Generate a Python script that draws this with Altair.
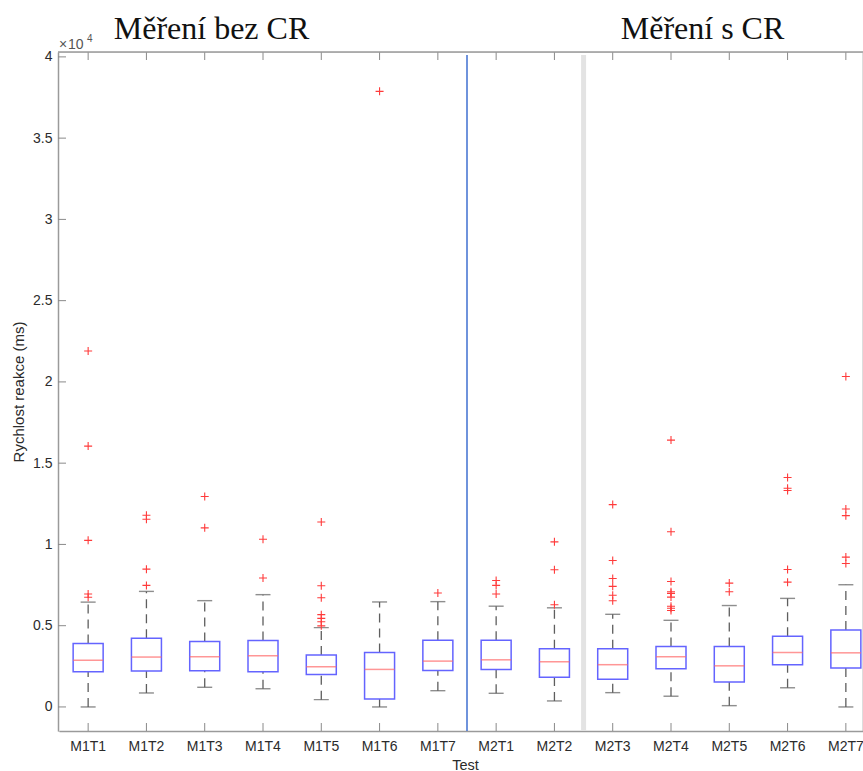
import altair as alt
import pandas as pd

cats = ["M1T1", "M1T2", "M1T3", "M1T4", "M1T5", "M1T6", "M1T7",
        "M2T1", "M2T2", "M2T3", "M2T4", "M2T5", "M2T6", "M2T7"]
q1 = [2160, 2210, 2230, 2170, 2000, 490, 2250, 2310, 1820, 1700, 2350, 1530, 2590, 2390]
med = [2880, 3070, 3090, 3150, 2470, 2310, 2820, 2900, 2780, 2600, 3090, 2530, 3350, 3330]
q3 = [3900, 4230, 4030, 4090, 3190, 3350, 4110, 4110, 3580, 3580, 3720, 3720, 4350, 4740]
whisk_lo = [0, 860, 1210, 1120, 450, 0, 1000, 840, 370, 880, 660, 80, 1180, 0]
whisk_hi = [6450, 7110, 6540, 6910, 4880, 6460, 6480, 6200, 6100, 5700, 5330, 6240, 6680, 7520]
outliers = [
    [21900, 16050, 10250, 6950, 6750],
    [11800, 11550, 8480, 7480],
    [12950, 11020],
    [10320, 7930],
    [11380, 7460, 6720, 5680, 5450, 5240, 4990],
    [37880],
    [7010],
    [7780, 7480, 6950],
    [10160, 8440, 6290],
    [12450, 9010, 7900, 7420, 6870, 6530],
    [16420, 10780, 7720, 7090, 6990, 6760, 6200, 6070, 5930],
    [7620, 7090],
    [14120, 13460, 13320, 8460, 7680],
    [20330, 12180, 11770, 9220, 8830],
]
y_ticks = [0, 5000, 10000, 15000, 20000, 25000, 30000, 35000, 40000]
group_titles = ["Měření bez CR", "Měření s CR"]
y_title = "Rychlost reakce (ms)"
x_title = "Test"

FONT = "Liberation Sans"
W, H = 804, 679

box_df = pd.DataFrame({"cat": cats, "q1": q1, "med": med, "q3": q3,
                       "lo": whisk_lo, "hi": whisk_hi})
out_df = pd.DataFrame([(c, v) for c, vals in zip(cats, outliers) for v in vals],
                      columns=["cat", "v"])
tick_df = pd.DataFrame({"v": y_ticks})
one = pd.DataFrame({"a": [0]})

xscale = alt.Scale(domain=cats, range=[1, 817], paddingInner=0, paddingOuter=0)
yscale = alt.Scale(domain=[-1480, 40300], nice=False, zero=False)

x_axis = alt.Axis(title=x_title, labelFont=FONT, labelFontSize=14, labelColor="#2b2b2b",
                  labelPadding=8, labelAngle=0, ticks=False, grid=False,
                  domainColor="#9a9a9a", domainWidth=1.5,
                  titleFont=FONT, titleFontSize=14.5, titleFontWeight="normal",
                  titleColor="#2b2b2b", titleX=407, titleY=38, titleAlign="center",
                  titleBaseline="alphabetic")
y_axis = alt.Axis(title=y_title, values=y_ticks, labelExpr="'' + datum.value/10000",
                  labelFont=FONT, labelFontSize=14, labelColor="#2b2b2b", labelPadding=6,
                  ticks=False, grid=False, domainColor="#9a9a9a", domainWidth=1.5,
                  titleFont=FONT, titleFontSize=15, titleFontWeight="normal",
                  titleColor="#2b2b2b", titleX=-40, titleY=H / 2, titleAngle=270,
                  titleAlign="center", titleBaseline="middle")

def X(**kw):
    return alt.X("cat:N", sort=cats, scale=xscale, axis=x_axis, **kw)

def Y(field):
    return alt.Y(field, scale=yscale, axis=y_axis)

# separator lines
sep_blue = alt.Chart(pd.DataFrame({"cat": ["M2T1"]})).mark_rule(
    color="#3f6fd1", strokeWidth=1.5).encode(
    x=X(bandPosition=0), y=alt.value(3), y2=alt.value(H))
sep_gray = alt.Chart(pd.DataFrame({"cat": ["M2T3"]})).mark_rule(
    color="#e3e3e3", strokeWidth=5).encode(
    x=X(bandPosition=0), y=alt.value(3), y2=alt.value(H))

base = alt.Chart(box_df)
whisk_style = dict(color="#5e5e5e", strokeWidth=1.3, strokeDash=[9, 6])
w_low = base.mark_rule(**whisk_style).encode(x=X(), y=Y("lo:Q"), y2="q1:Q")
w_high = base.mark_rule(**whisk_style).encode(x=X(), y=Y("q3:Q"), y2="hi:Q")
cap_lo = base.mark_tick(color="#5e5e5e", size=15, thickness=1.4, orient="horizontal").encode(
    x=X(), y=Y("lo:Q"))
cap_hi = base.mark_tick(color="#5e5e5e", size=15, thickness=1.4, orient="horizontal").encode(
    x=X(), y=Y("hi:Q"))
boxes = base.mark_bar(filled=False, stroke="#6464ff", strokeWidth=1.5, width=30).encode(
    x=X(), y=Y("q1:Q"), y2="q3:Q")
medians = base.mark_tick(color="#ff6a6a", size=30, thickness=1.5, orient="horizontal").encode(
    x=X(), y=Y("med:Q"))
outs = alt.Chart(out_df).mark_point(
    shape="M-1,0L1,0M0,-1L0,1", filled=False, stroke="#ff3b3b", strokeWidth=1.1,
    size=64, opacity=1).encode(x=X(), y=Y("v:Q"))

# inward ticks
tick_color = "#8a8a8a"
x_ticks_bottom = alt.Chart(box_df).mark_rule(color=tick_color, strokeWidth=1).encode(
    x=X(), y=alt.value(H), y2=alt.value(H - 8))
x_ticks_top = alt.Chart(box_df).mark_rule(color=tick_color, strokeWidth=1).encode(
    x=X(), y=alt.value(0), y2=alt.value(8))
y_ticks_l = alt.Chart(tick_df).mark_rule(color=tick_color, strokeWidth=1).encode(
    y=Y("v:Q"), x=alt.value(0), x2=alt.value(8))
top_line = alt.Chart(one).mark_rule(color="#9a9a9a", strokeWidth=1.5).encode(
    x=alt.value(0), x2=alt.value(820), y=alt.value(0))

# exponent label
exp_df = pd.DataFrame({"t": ["×", "10", "4"], "px": [1, 10, 29], "py": [-3, -3, -10],
                       "fs": [14, 14, 10]})
exp_txt = alt.Chart(exp_df).mark_text(font=FONT, color="#555555",
                                      align="left", baseline="alphabetic").encode(
    text="t:N", x=alt.X("px:Q", scale=None), y=alt.Y("py:Q", scale=None),
    size=alt.Size("fs:Q", scale=None, legend=None))

# group titles
title_df = pd.DataFrame({"t": group_titles, "px": [153.5, 644.5]})
titles = alt.Chart(title_df).mark_text(font="Liberation Serif", fontSize=32, color="#111111",
                                       align="center", baseline="alphabetic").encode(
    text="t:N", x=alt.X("px:Q", scale=None), y=alt.value(-13))

chart = alt.layer(
    sep_gray, sep_blue, w_low, w_high, cap_lo, cap_hi, boxes, medians, outs,
    x_ticks_bottom, x_ticks_top, y_ticks_l, top_line, exp_txt, titles
).properties(
    width=W, height=H,
    padding={"left": 58, "top": 52, "right": 1, "bottom": 40},
    autosize="none",
).configure_view(stroke=None).configure(background="white")

chart.save("out.html", embed_options={"renderer": "svg", "actions": False})
